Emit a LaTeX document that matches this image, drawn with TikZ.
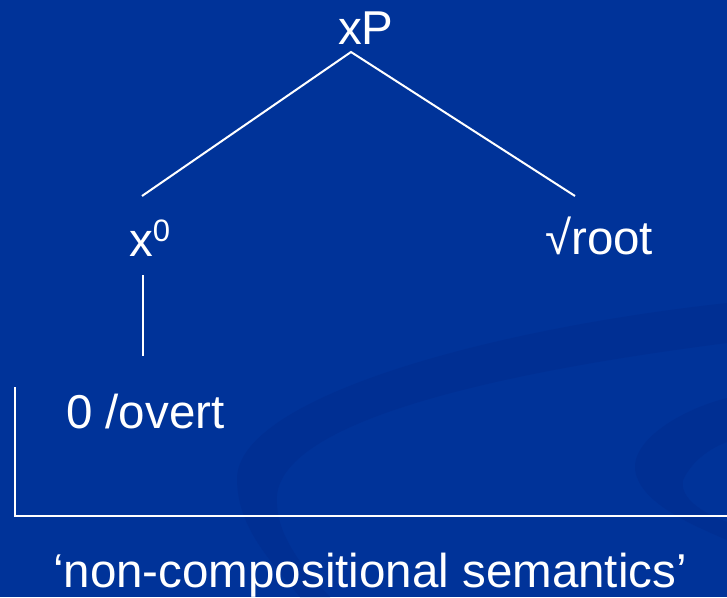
\documentclass[tikz,border=0pt]{standalone}
\usepackage{fontspec}
\setmainfont{Liberation Sans}
\definecolor{bgblue}{RGB}{0,51,153}
\definecolor{swirl}{RGB}{0,47,147}
\begin{document}
\begin{tikzpicture}[x=1pt,y=-1pt,
  lbl/.style={text=white,inner sep=0pt,anchor=base west,font=\fontsize{47.5}{54}\selectfont},
  bottomlbl/.style={text=white,inner sep=0pt,anchor=base,font=\fontsize{47.5}{54}\selectfont},
  branch/.style={draw=white,line width=2pt}]
\fill[bgblue] (0,0) rectangle (727,597);
\useasboundingbox (0,0) rectangle (727,597);
% faint swirl
\fill[swirl] (727,303) .. controls (480,330) and (235,400) .. (237,480)
   .. controls (238,525) and (265,555) .. (300,597) -- (330,597)
   .. controls (290,555) and (275,525) .. (277,495)
   .. controls (285,420) and (500,372) .. (727,343) -- cycle;
\fill[swirl] (727,398) .. controls (680,410) and (632,440) .. (635,470)
   .. controls (640,500) and (680,520) .. (727,540) -- (727,522)
   .. controls (695,510) and (680,495) .. (683,480)
   .. controls (690,465) and (705,450) .. (727,442) -- cycle;
% labels
\node[lbl] (xP) at (338,44) {xP};
\node[lbl] (x0) at (129,256) {x{\fontsize{31}{31}\selectfont\raisebox{15pt}{0}}};
\node[lbl] (root) at (545,254) {√root};
\node[lbl] (overt) at (66,428) {0 /overt};
\node[bottomlbl] (ncs) at (370,587) {‘non-compositional semantics’};
% connector ends
\coordinate (apex) at (351,52);
\coordinate (lend) at (142,196);
\coordinate (rend) at (575,196);
\coordinate (vtop) at (143,275);
\coordinate (vbot) at (143,356);
\coordinate (btop) at (15,387);
\coordinate (bright) at (730,516);
\draw[branch] (lend) -- (apex) -- (rend);
\draw[branch] (vtop) -- (vbot);
\draw[branch] (btop) |- (bright);
\end{tikzpicture}
\end{document}
